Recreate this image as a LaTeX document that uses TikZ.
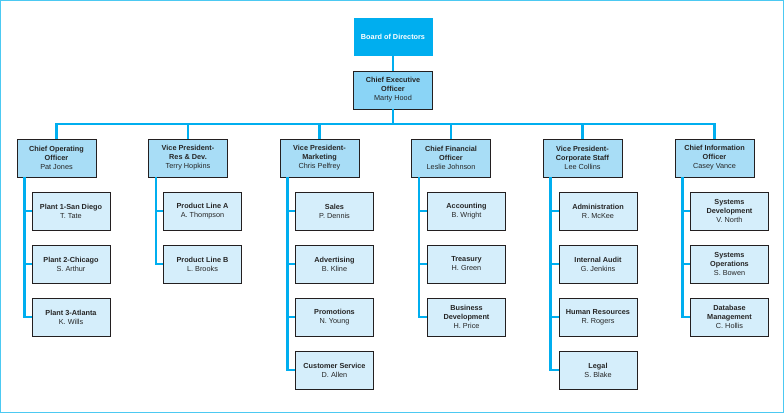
\documentclass[tikz,border=0pt]{standalone}
\usepackage{fontspec}
\setmainfont{Liberation Sans}
\definecolor{cyanline}{HTML}{00AEEF}
\definecolor{framec}{HTML}{4CC9F2}
\definecolor{ceofill}{HTML}{8AD4F6}
\definecolor{lvtwo}{HTML}{A8DDF6}
\definecolor{lvthree}{HTML}{D5EEFB}
\definecolor{boxline}{HTML}{231F20}
\tikzset{
  box/.style={draw=boxline, line width=0.9pt, minimum width=79pt, minimum height=38pt,
    inner sep=1pt, align=center, font=\fontsize{7.3}{9}\selectfont, text=black!85},
  boardbox/.style={box, draw=none, fill=cyanline, text=white, font=\fontsize{7.3}{9}\selectfont\bfseries},
  ceobox/.style={box, fill=ceofill},
  headbox/.style={box, fill=lvtwo},
  unitbox/.style={box, fill=lvthree, minimum width=78pt},
  conn/.style={draw=cyanline, line width=2.7pt, line cap=butt},
}
\begin{document}
\begin{tikzpicture}[x=1pt,y=-1pt]
\useasboundingbox (0,0) rectangle (784,413);
\draw[framec, line width=1.3pt] (0.65,0.65) rectangle (783.35,412.35);

\node[boardbox] (board) at (393,37) {Board of Directors};
\node[ceobox] (ceo) at (393,90) {\textbf{Chief Executive}\\\textbf{Officer}\\Marty Hood};
\coordinate (bus) at (393,124);

\node[headbox] (coo) at (56.5,158) {\textbf{Chief Operating}\\\textbf{Officer}\\Pat Jones};
\node[headbox] (rd) at (188,158) {\textbf{Vice President-}\\\textbf{Res \& Dev.}\\Terry Hopkins};
\node[headbox] (mkt) at (319.5,158) {\textbf{Vice President-}\\\textbf{Marketing}\\Chris Pelfrey};
\node[headbox] (cfo) at (451,158) {\textbf{Chief Financial}\\\textbf{Officer}\\Leslie Johnson};
\node[headbox] (corp) at (582.5,158) {\textbf{Vice President-}\\\textbf{Corporate Staff}\\Lee Collins};
\node[headbox] (cio) at (714.5,158) {\textbf{Chief Information}\\\textbf{Officer}\\Casey Vance};

% COO units
\node[unitbox] (coo1) at (71,211) {\textbf{Plant 1-San Diego}\\T. Tate};
\node[unitbox] (coo2) at (71,264) {\textbf{Plant 2-Chicago}\\S. Arthur};
\node[unitbox] (coo3) at (71,317) {\textbf{Plant 3-Atlanta}\\K. Wills};
% R&D units
\node[unitbox] (rd1) at (202.5,211) {\textbf{Product Line A}\\A. Thompson};
\node[unitbox] (rd2) at (202.5,264) {\textbf{Product Line B}\\L. Brooks};
% Marketing units
\node[unitbox] (mkt1) at (334.5,211) {\textbf{Sales}\\P. Dennis};
\node[unitbox] (mkt2) at (334.5,264) {\textbf{Advertising}\\B. Kline};
\node[unitbox] (mkt3) at (334.5,317) {\textbf{Promotions}\\N. Young};
\node[unitbox] (mkt4) at (334.5,370) {\textbf{Customer Service}\\D. Allen};
% CFO units
\node[unitbox] (cfo1) at (466.5,211) {\textbf{Accounting}\\B. Wright};
\node[unitbox] (cfo2) at (466.5,264) {\textbf{Treasury}\\H. Green};
\node[unitbox] (cfo3) at (466.5,317) {\textbf{Business}\\\textbf{Development}\\H. Price};
% Corporate staff units
\node[unitbox] (corp1) at (598,211) {\textbf{Administration}\\R. McKee};
\node[unitbox] (corp2) at (598,264) {\textbf{Internal Audit}\\G. Jenkins};
\node[unitbox] (corp3) at (598,317) {\textbf{Human Resources}\\R. Rogers};
\node[unitbox] (corp4) at (598,370) {\textbf{Legal}\\S. Blake};
% CIO units
\node[unitbox] (cio1) at (729.5,211) {\textbf{Systems}\\\textbf{Development}\\V. North};
\node[unitbox] (cio2) at (729.5,264) {\textbf{Systems}\\\textbf{Operations}\\S. Bowen};
\node[unitbox] (cio3) at (729.5,317) {\textbf{Database}\\\textbf{Management}\\C. Hollis};

% top connectors
\draw[conn] (board.south) -- (ceo.north);
\draw[conn] (ceo.south) -- (bus);
\draw[conn] (coo.north) -- (coo.north |- bus) -- (cio.north |- bus) -- (cio.north);
\foreach \h in {rd,mkt,cfo,corp}{
  \draw[conn] (\h.north) -- (\h.north |- bus);
}

% trunks
\foreach \h/\last/\kids in {coo/coo3/{coo1,coo2,coo3}, rd/rd2/{rd1,rd2}, mkt/mkt4/{mkt1,mkt2,mkt3,mkt4}, cfo/cfo3/{cfo1,cfo2,cfo3}, corp/corp4/{corp1,corp2,corp3,corp4}, cio/cio3/{cio1,cio2,cio3}}{
  \draw[conn] ([xshift=8pt]\h.south west) -- ([xshift=8pt]\h.south west |- \last.west) -- (\last.west);
  \foreach \k in \kids {
    \draw[conn] ([xshift=8pt]\h.south west |- \k.west) -- (\k.west);
  }
}
\end{tikzpicture}
\end{document}
